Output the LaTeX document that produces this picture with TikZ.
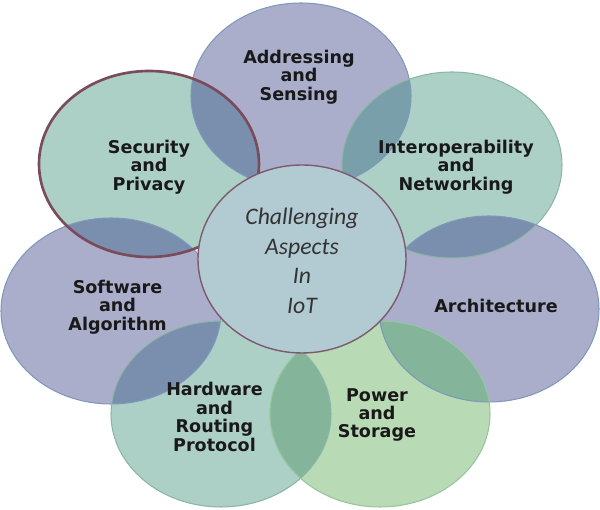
\documentclass[tikz,border=0pt]{standalone}
\usepackage{fontspec}
\newfontfamily\tagfont{DejaVu Sans}
\newfontfamily\corefont{Carlito}
\usetikzlibrary{calc,shapes.geometric}

\definecolor{lavender}{HTML}{ABAECB}
\definecolor{mint}{HTML}{ACCFC6}
\definecolor{leaf}{HTML}{B8DAB4}
\definecolor{corefill}{HTML}{B2CBD3}
\definecolor{lensblue}{HTML}{7A8EAE}
\definecolor{lensteal}{HTML}{79A0AA}
\definecolor{lensgreen}{HTML}{84B59B}
\definecolor{rimblue}{HTML}{7E98BA}
\definecolor{rimgreen}{HTML}{8BB5A5}
\definecolor{rimleaf}{HTML}{95C6A0}
\definecolor{rimrose}{HTML}{7A4B5C}
\definecolor{rimcore}{HTML}{7D5A6C}

\begin{document}
\begin{tikzpicture}

\tikzstyle{petal} = [ellipse,inner sep=0,minimum width=4.4cm,minimum height=3.72cm]%
\tikzstyle{radii} = [x radius=2.2cm,y radius=1.86cm]%
\tikzstyle{rim} = [line width=0.6pt]%
\tikzstyle{tag} = [align=center,text=black!90,font=\tagfont\bfseries\fontsize{10}{10.5}\selectfont]%
\tikzstyle{coretag} = [align=center,text=black!80,font=\corefont\itshape\fontsize{13.5}{16.8}\selectfont]%

\useasboundingbox (0,0) rectangle (12,10.2);

\node[petal,fill=lavender] (addr) at (6.02, 8.28) {};
\node[petal,fill=mint] (sec) at (2.98, 6.92) {};
\node[petal,fill=mint] (inter) at (9.04, 6.90) {};
\node[petal,fill=lavender] (soft) at (2.22, 3.98) {};
\node[petal,fill=lavender] (arch) at (9.78, 4.02) {};
\node[petal,fill=mint] (hard) at (4.42, 1.92) {};
\node[petal,fill=leaf] (power) at (7.60, 1.92) {};

% overlaps
\begin{scope}
\clip (sec.center) ellipse [radii];
\fill[lensblue] (addr.center) ellipse [radii];
\fill[lensblue] (soft.center) ellipse [radii];
\end{scope}
\begin{scope}
\clip (inter.center) ellipse [radii];
\fill[lensteal] (addr.center) ellipse [radii];
\fill[lensblue] (arch.center) ellipse [radii];
\end{scope}
\begin{scope}
\clip (hard.center) ellipse [radii];
\fill[lensblue] (soft.center) ellipse [radii];
\fill[lensgreen] (power.center) ellipse [radii];
\end{scope}
\begin{scope}
\clip (arch.center) ellipse [radii];
\fill[lensgreen] (power.center) ellipse [radii];
\end{scope}

\draw[rim,rimblue] (addr.center) ellipse [radii];
\draw[rim,rimgreen] (inter.center) ellipse [radii];
\draw[rim,rimblue] (soft.center) ellipse [radii];
\draw[rim,rimblue] (arch.center) ellipse [radii];
\draw[rim,rimgreen] (hard.center) ellipse [radii];
\draw[rim,rimleaf] (power.center) ellipse [radii];
\draw[rimrose,line width=1.5pt] (sec.center) ellipse [radii];

\node[petal,fill=corefill,draw=rimcore,line width=0.8pt,minimum width=4.16cm,minimum height=3.76cm] (core) at (6.04, 5.02) {};

\node[tag] (addrtag) at ($(addr)+(-0.04,0.38)$) {Addressing\\and\\Sensing};
\node[tag] (sectag) at ($(sec)+(0,-0.06)$) {Security\\and\\Privacy};
\node[tag] (intertag) at ($(inter)+(0.08,-0.04)$) {Interoperability\\and\\Networking};
\node[tag] (softtag) at ($(soft)+(0.13,0.08)$) {Software\\and\\Algorithm};
\node[tag] (archtag) at ($(arch)+(0.14,0.06)$) {Architecture};
\node[tag] (hardtag) at ($(hard)+(-0.13,-0.06)$) {Hardware\\and\\Routing\\Protocol};
\node[tag] (powertag) at ($(power)+(-0.06,-0.02)$) {Power\\and\\Storage};
\node[coretag] (coretext) at ($(core)+(0,-0.04)$) {Challenging\\Aspects\\In\\IoT};

\end{tikzpicture}
\end{document}
